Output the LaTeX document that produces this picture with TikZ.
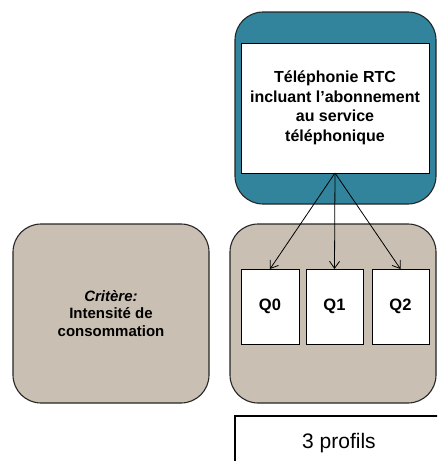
\documentclass[tikz,border=0pt]{standalone}
\usepackage{fontspec}
\setmainfont{Liberation Sans}
\usetikzlibrary{arrows.meta}
\definecolor{teal1}{HTML}{31849B}
\definecolor{beige1}{HTML}{C9C0B3}
\tikzset{
  bigbox/.style={draw=black!85, line width=1.1pt, rounded corners=28pt, inner sep=0pt, outer sep=0pt},
  whitebox/.style={draw=black, fill=white, line width=0.9pt, inner sep=0pt, outer sep=0pt, align=center},
  arr/.style={-{Straight Barb[length=7pt,width=10pt]}, line width=0.8pt},
}
\begin{document}
\begin{tikzpicture}[x=1pt,y=-1pt]
\useasboundingbox (0,0) rectangle (437,461);
\clip (0,0) rectangle (437,461);
\fill[white] (0,0) rectangle (437,461);
% top teal box
\node[bigbox, fill=teal1, minimum width=201pt, minimum height=192pt] (top) at (335.5,108) {};
\node[whitebox, minimum width=188pt, minimum height=130pt, font=\bfseries\fontsize{16}{19.5}\selectfont] (rtc) at (335,108)
  {Téléphonie RTC\\incluant l’abonnement\\au service\\téléphonique};
% left criterion box
\node[bigbox, fill=beige1, minimum width=196pt, minimum height=179pt, align=center, font=\bfseries\fontsize{15}{17.5}\selectfont] (crit) at (111,313.5)
  {\textit{Critère:}\\Intensité de\\consommation};
% right beige box
\node[bigbox, fill=beige1, minimum width=206pt, minimum height=179pt] (grp) at (333,313.5) {};
\node[whitebox, minimum width=58pt, minimum height=75pt, font=\bfseries\fontsize{16.5}{19}\selectfont] (q0) at (270,306.5) {Q0};
\node[whitebox, minimum width=57pt, minimum height=75pt, font=\bfseries\fontsize{16.5}{19}\selectfont] (q1) at (334.5,306.5) {Q1};
\node[whitebox, minimum width=57pt, minimum height=75pt, font=\bfseries\fontsize{16.5}{19}\selectfont] (q2) at (400.5,306.5) {Q2};
% arrows
\draw[arr] (rtc.south) -- (q0.north);
\draw[arr] (rtc.south) -- (q1.north);
\draw[arr] (rtc.south) -- (q2.north);
% profiles box
\node[draw=black, line width=1.3pt, fill=white, minimum width=210pt, minimum height=58pt, inner sep=0pt] (prof) at (340,445) {};
\node[font=\fontsize{21}{24}\selectfont, anchor=base] (proflbl) at (339,448) {3 profils};
\end{tikzpicture}
\end{document}
